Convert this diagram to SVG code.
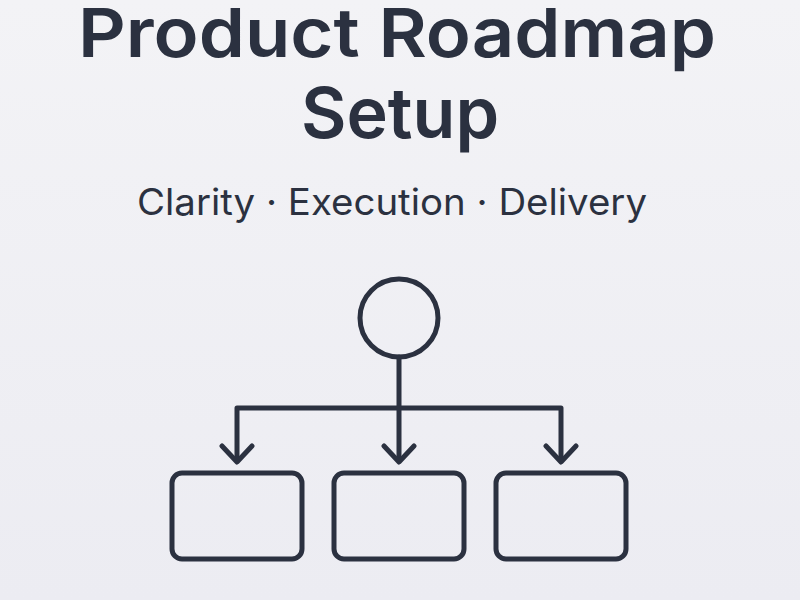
<svg xmlns="http://www.w3.org/2000/svg" width="800" height="600" viewBox="0 0 800 600">
<defs>
<linearGradient id="bg" x1="0" y1="0" x2="0" y2="1"><stop offset="0" stop-color="#f3f3f6"/><stop offset="1" stop-color="#ececf2"/></linearGradient>
<style>
.s{fill:none;stroke:#2b3140;stroke-width:5;stroke-linecap:round;stroke-linejoin:round}
.t{font-family:Inter,"Liberation Sans",sans-serif;fill:#2b3140;text-anchor:middle}
</style>
</defs>
<rect width="800" height="600" fill="url(#bg)"/>
<text class="t" x="397" y="57" font-size="68" font-weight="600" textLength="638" lengthAdjust="spacingAndGlyphs">Product Roadmap</text>
<text class="t" x="400" y="138" font-size="70" font-weight="600">Setup</text>
<text class="t" x="392" y="215" font-size="37" textLength="510" lengthAdjust="spacingAndGlyphs">Clarity · Execution · Delivery</text>
<g id="root"><circle class="s" cx="399" cy="318" r="39"/></g>
<g id="connectors">
<path class="s" d="M399 357 V460 M237 460 V408 H561 V460"/>
<path class="s" d="M222 446 L237 462 L252 446 M384 446 L399 462 L414 446 M546 446 L561 462 L576 446"/>
</g>
<g id="box1"><rect class="s" x="172" y="473" width="130" height="86" rx="10"/></g>
<g id="box2"><rect class="s" x="334" y="473" width="130" height="86" rx="10"/></g>
<g id="box3"><rect class="s" x="496" y="473" width="130" height="86" rx="10"/></g>
</svg>
